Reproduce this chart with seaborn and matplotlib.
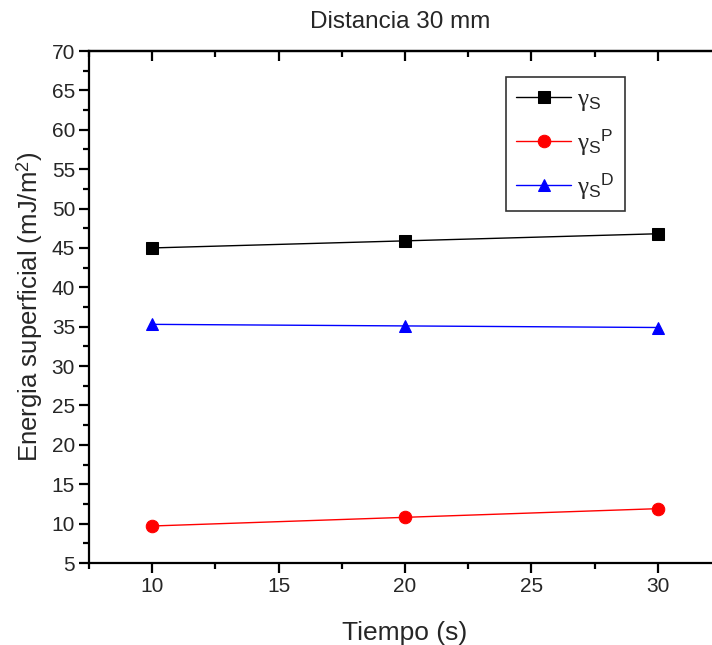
import matplotlib
matplotlib.use("Agg")
import matplotlib.pyplot as plt
import seaborn as sns
import pandas as pd
from matplotlib.ticker import MultipleLocator

tiempo = [10, 20, 30]
gamma_s = [45.0, 45.9, 46.8]
gamma_p = [9.7, 10.8, 11.9]
gamma_d = [35.3, 35.1, 34.9]
labels = [r'$\gamma_{\mathrm{S}}$', r'$\gamma_{\mathrm{S}}{}^{\mathrm{P}}$', r'$\gamma_{\mathrm{S}}{}^{\mathrm{D}}$']
colors = ['black', 'red', 'blue']
markers = ['s', 'o', '^']

sns.set_style("white")
plt.rcParams['font.family'] = ['Liberation Sans', 'DejaVu Sans']
plt.rcParams['mathtext.fontset'] = 'custom'
plt.rcParams['mathtext.rm'] = 'Liberation Sans'
plt.rcParams['mathtext.it'] = 'Liberation Serif'

fig = plt.figure(figsize=(7.12, 6.45), dpi=100)
ax = fig.add_axes([0.125, 0.1271, 0.8876, 0.7938])

for vals, lab, c, m in zip([gamma_s, gamma_p, gamma_d], labels, colors, markers):
    df = pd.DataFrame({'t': tiempo, 'v': vals})
    sns.lineplot(data=df, x='t', y='v', ax=ax, color=c, marker=m, markersize=9,
                 markeredgecolor=c, linewidth=1, label=lab)

ax.set_xlim(7.5, 32.5)
ax.set_ylim(5, 70)
ax.set_xticks([10, 15, 20, 25, 30])
ax.xaxis.set_minor_locator(MultipleLocator(2.5))
ax.yaxis.set_major_locator(MultipleLocator(5))
ax.yaxis.set_minor_locator(MultipleLocator(2.5))

for s in ['left', 'bottom', 'top', 'right']:
    ax.spines[s].set_color('black')
    ax.spines[s].set_linewidth(1.6)

ax.tick_params(axis='both', which='major', direction='out', length=7, width=1.6,
               labelsize=15, color='black', pad=3, left=True, bottom=True, top=False, right=False)
ax.tick_params(axis='both', which='minor', direction='out', length=4, width=1.6,
               color='black', left=True, bottom=True, top=False, right=False)

top = ax.secondary_xaxis('top')
top.set_xticks([10, 15, 20, 25, 30])
top.xaxis.set_minor_locator(MultipleLocator(2.5))
top.tick_params(axis='x', which='major', direction='in', length=7, width=1.6, labeltop=False, color='black')
top.tick_params(axis='x', which='minor', direction='in', length=4, width=1.6, color='black')
top.spines['top'].set_linewidth(1.6)
top.spines['top'].set_color('black')

ax.set_xlabel('Tiempo (s)', fontsize=19, labelpad=18)
ax.set_ylabel(r'Energia superficial (mJ/m$^{2}$)', fontsize=18.5, labelpad=5)
fig.text(0.562, 0.966, 'Distancia 30 mm', ha='center', va='center', fontsize=17.5)

leg = ax.legend(loc='upper left', bbox_to_anchor=(0.66, 0.949), fontsize=18,
                frameon=True, fancybox=False, edgecolor='black', handlelength=2.2,
                labelspacing=0.55, borderpad=0.4, handletextpad=0.25, borderaxespad=0)
leg.get_frame().set_linewidth(1.2)

fig.savefig('out.png', dpi=100)
